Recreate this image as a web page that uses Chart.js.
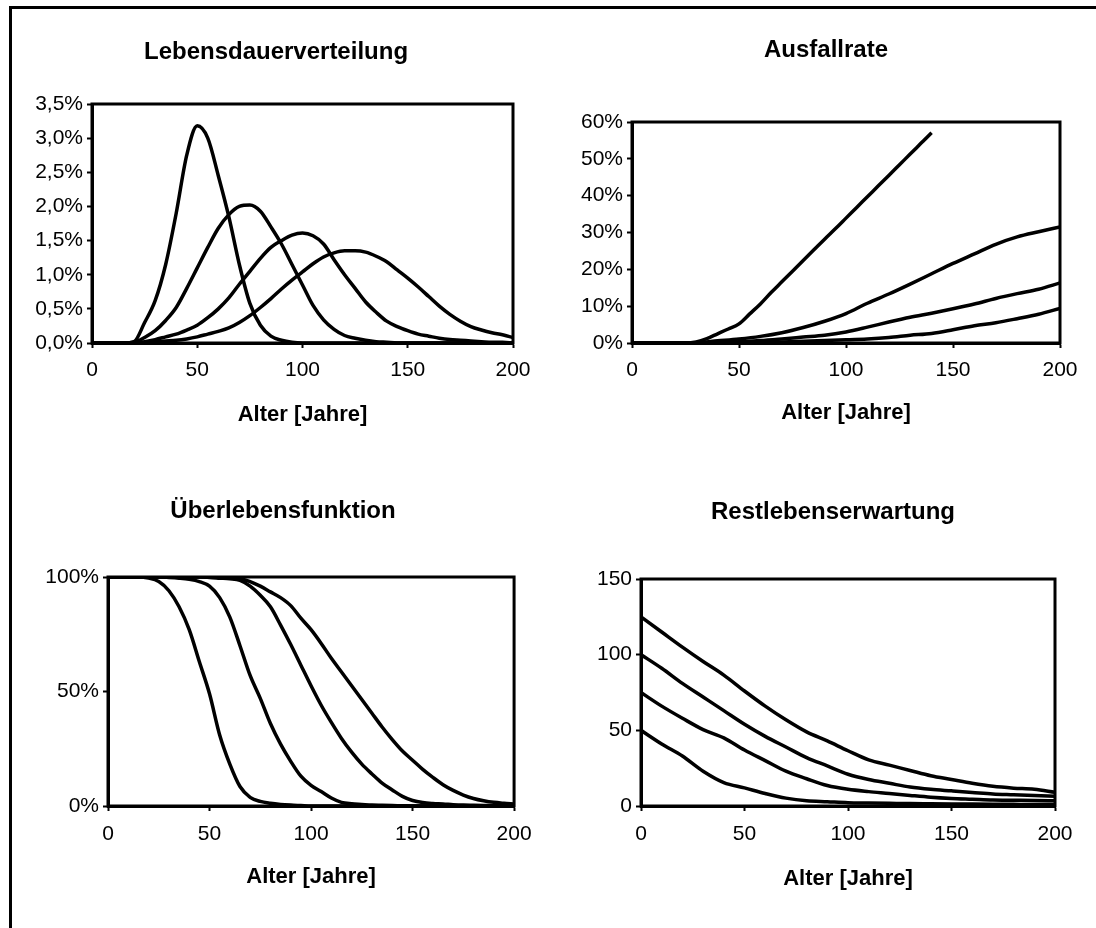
<!DOCTYPE html>
<html>
<head>
<meta charset="utf-8">
<script src="https://cdn.jsdelivr.net/npm/chart.js@4.4.1/dist/chart.umd.min.js"></script>
<style>
  body { margin: 0; background: #fff; width: 1096px; height: 928px; overflow: hidden; position: relative; }
  .frame { position: absolute; left: 9px; top: 6px; width: 1200px; height: 1000px; border-top: 3px solid #000; border-left: 3px solid #000; }
  canvas { position: absolute; }
</style>
</head>
<body>
<div class="frame"></div>
<canvas id="c1" width="530" height="420" style="left:12px;top:10px"></canvas>
<canvas id="c2" width="532" height="420" style="left:560px;top:10px"></canvas>
<canvas id="c3" width="530" height="430" style="left:12px;top:470px"></canvas>
<canvas id="c4" width="532" height="430" style="left:560px;top:470px"></canvas>
<script>
// Alter in Jahren
const ages5 = [0,5,10,15,20,25,30,35,40,45,50,55,60,65,70,75,80,85,90,95,100,
               105,110,115,120,125,130,135,140,145,150,155,160,165,170,175,180,185,190,195,200];
const ages10 = [0,10,20,30,40,50,60,70,80,90,100,110,120,130,140,150,160,170,180,190,200];

const xLabels = ['0', '50', '100', '150', '200'];
const xTitle = 'Alter [Jahre]';

// Lebensdauerverteilung (%), ages5
const dens1 = [0,0,0,0,0.02,0.3,0.62,1.15,1.9,2.75,3.18,3.0,2.45,1.85,1.15,0.58,0.26,0.1,0.04,0.01,0,
               0,0,0,0,0,0,0,0,0,0,0,0,0,0,0,0,0,0,0,0];
const dens2 = [0,0,0,0,0.01,0.08,0.18,0.33,0.52,0.8,1.1,1.4,1.68,1.88,2.0,2.02,1.93,1.7,1.45,1.15,0.85,
               0.55,0.34,0.2,0.11,0.07,0.04,0.02,0.01,0,0,0,0,0,0,0,0,0,0,0,0];
const dens3 = [0,0,0,0,0,0.02,0.05,0.09,0.13,0.19,0.26,0.37,0.5,0.66,0.86,1.05,1.24,1.4,1.5,1.58,1.61,
               1.57,1.45,1.22,1.0,0.8,0.6,0.45,0.32,0.24,0.18,0.13,0.1,0.07,0.05,0.04,0.03,0.02,0.01,0.01,0];
const dens4 = [0,0,0,0,0,0.01,0.02,0.03,0.04,0.06,0.09,0.13,0.17,0.22,0.3,0.4,0.52,0.65,0.79,0.92,1.04,
               1.16,1.26,1.32,1.35,1.35,1.33,1.27,1.19,1.07,0.95,0.82,0.68,0.54,0.42,0.32,0.24,0.19,0.15,0.12,0.08];
const densTicks = ['0,0%', '0,5%', '1,0%', '1,5%', '2,0%', '2,5%', '3,0%', '3,5%'];

// Ausfallrate (%), rate1 on ages5 (ends at 140), the others on ages10
const rate1 = [0,0,0,0,0,0,0.3,1.2,2.5,3.8,5.2,7.9,10.6,13.7,16.6,19.5,22.4,25.3,28.2,31.0,33.9,
               36.8,39.7,42.6,45.5,48.4,51.3,54.2,57.1];
const rate2 = [0,0,0,0.1,0.6,1.1,1.8,2.8,4.2,5.9,8.0,10.8,13.3,16.0,18.8,21.6,24.2,26.8,28.8,30.2,31.5];
const rate3 = [0,0,0,0,0.1,0.35,0.65,1.1,1.6,2.1,3.0,4.3,5.7,7.0,8.1,9.3,10.6,12.1,13.4,14.6,16.3];
const rate4 = [0,0,0,0,0,0.05,0.15,0.3,0.45,0.65,0.85,1.1,1.5,2.1,2.6,3.6,4.7,5.5,6.6,7.8,9.4];
const rateTicks = ['0%', '10%', '20%', '30%', '40%', '50%', '60%'];

// Überlebensfunktion (%), ages5
const surv1 = [100,100,100,100,99.5,98,94,87,77,63,49,31,18.3,8.5,3.8,2,1.2,0.7,0.4,0.2,0,
               0,0,0,0,0,0,0,0,0,0,0,0,0,0,0,0,0,0,0,0];
const surv2 = [100,100,100,100,100,100,99.8,99.5,99,98,96,91,82.5,70,57,47,36,27,19.5,13,9,
               6.3,3.5,1.6,1.0,0.7,0.4,0.3,0.2,0.1,0,0,0,0,0,0,0,0,0,0,0];
const surv3 = [100,100,100,100,100,100,100,100,100,100,99.8,99.5,99.2,98.5,96,92,87,79,70.5,61.5,52.5,
               44,36.5,29.5,23.5,18.3,14,10,7,4.2,2.4,1.5,1.1,0.9,0.6,0.4,0.3,0.2,0.1,0.05,0];
const surv4 = [100,100,100,100,100,100,100,100,100,100,100,100,99.8,99.3,98,96,93.5,91,87.5,82,77,
               71,64.5,58.5,52.5,46.5,40.5,34.5,29,24,20,16,12.5,9.3,6.8,4.8,3.3,2.3,1.6,1.2,0.9];
const survTicks = ['0%', '50%', '100%'];

// Restlebenserwartung (Jahre), ages10
const rest1 = [125,115,105,95.5,86.5,76,66,57,49,43,36.5,30.5,27,23.5,20,17.5,15,13,11.8,11,9];
const rest2 = [100,91,81,72,63,54,46,39,32,26.5,21,17.5,15,12.5,11,10,9,8,7.5,7,6.5];
const rest3 = [75,66,58,50.5,45,37,30,23,18,13.5,11,9.5,8.3,7,5.8,5,4.5,4,3.8,3.6,3.5];
const rest4 = [50,41,33,23,15.5,12,8.3,5.2,3.4,2.8,2.2,2,1.8,1.6,1.5,1.4,1.3,1.2,1.1,1.0,1.0];
const restTicks = ['0', '50', '100', '150'];

Chart.defaults.font.family = "'Liberation Sans', Arial, sans-serif";
Chart.defaults.color = '#000';

// black frame round the plot area, like the Excel original
const plotFrame = {
  id: 'plotFrame',
  afterLayout(chart) {
    // let the y tick labels use the space left of the axis box (no clipping)
    chart.scales.y.left = 0;
  },
  afterDatasetsDraw(chart) {
    const a = chart.chartArea;
    const ctx = chart.ctx;
    ctx.save();
    ctx.strokeStyle = '#000';
    ctx.lineWidth = 3;
    ctx.strokeRect(a.left, a.top, a.right - a.left, a.bottom - a.top);
    ctx.restore();
  }
};

function pts(xs, ys) {
  return ys.map((y, i) => ({ x: xs[i], y: y }));
}

function line(xs, ys) {
  return {
    data: pts(xs, ys),
    borderColor: '#000',
    borderWidth: 3.5,
    pointRadius: 0,
    fill: false,
    cubicInterpolationMode: 'monotone'
  };
}

function makeChart(id, o) {
  new Chart(document.getElementById(id), {
    type: 'line',
    data: { datasets: o.datasets },
    options: {
      responsive: false,
      animation: false,
      layout: { padding: { left: o.padLeft, right: o.padRight, top: 0, bottom: 0 } },
      plugins: {
        legend: { display: false },
        tooltip: { enabled: false },
        title: {
          display: true,
          text: o.title,
          color: '#000',
          font: { size: 24, weight: 'bold' },
          padding: { top: o.titleTop, bottom: o.titleBottom }
        }
      },
      scales: {
        x: {
          type: 'linear',
          min: 0,
          max: 200,
          ticks: {
            stepSize: 50,
            padding: o.xTickPad,
            maxRotation: 0,
            color: '#000',
            font: { size: 21 },
            callback: (v, i) => xLabels[i]
          },
          grid: { drawOnChartArea: false, drawTicks: true, tickLength: 5, tickWidth: 2, tickColor: '#000' },
          border: { display: true, color: '#000', width: 3 },
          title: {
            display: true,
            text: xTitle,
            color: '#000',
            font: { size: 22, weight: 'bold' },
            padding: { top: 0, bottom: o.xTitlePad }
          },
          afterFit: s => { s.height = o.xHeight; }
        },
        y: {
          min: 0,
          max: o.yMax,
          ticks: {
            stepSize: o.yStep,
            padding: 4,
            color: '#000',
            font: { size: 21 },
            callback: (v, i) => o.yLabels[i]
          },
          grid: { drawOnChartArea: false, drawTicks: true, tickLength: 5, tickWidth: 2, tickColor: '#000' },
          border: { display: true, color: '#000', width: 3 },
          afterFit: s => { s.width = o.yWidth; }
        }
      }
    },
    plugins: [plotFrame]
  });
}

makeChart('c1', {
  title: 'Lebensdauerverteilung',
  datasets: [line(ages5, dens1), line(ages5, dens2), line(ages5, dens3), line(ages5, dens4)],
  yMax: 3.5, yStep: 0.5, yLabels: densTicks,
  padLeft: 27, padRight: 29, yWidth: 53,
  titleTop: 27.6, titleBottom: 37.6,
  xHeight: 87, xTickPad: 9.4, xTitlePad: 1.8
});

makeChart('c2', {
  title: 'Ausfallrate',
  datasets: [line(ages5, rate1), line(ages10, rate2), line(ages10, rate3), line(ages10, rate4)],
  yMax: 60, yStep: 10, yLabels: rateTicks,
  padLeft: 32, padRight: 32, yWidth: 40,
  titleTop: 25.6, titleBottom: 57.6,
  xHeight: 87, xTickPad: 9.4, xTitlePad: 3.8
});

makeChart('c3', {
  title: 'Überlebensfunktion',
  datasets: [line(ages5, surv1), line(ages5, surv2), line(ages5, surv3), line(ages5, surv4)],
  yMax: 100, yStep: 50, yLabels: survTicks,
  padLeft: 37, padRight: 25, yWidth: 59,
  titleTop: 26.6, titleBottom: 51.6,
  xHeight: 94, xTickPad: 10.4, xTitlePad: 9.8
});

makeChart('c4', {
  title: 'Restlebenserwartung',
  datasets: [line(ages10, rest1), line(ages10, rest2), line(ages10, rest3), line(ages10, rest4)],
  yMax: 150, yStep: 50, yLabels: restTicks,
  padLeft: 51, padRight: 37, yWidth: 30,
  titleTop: 27.6, titleBottom: 52.6,
  xHeight: 94, xTickPad: 10.4, xTitlePad: 7.8
});
</script>
</body>
</html>
